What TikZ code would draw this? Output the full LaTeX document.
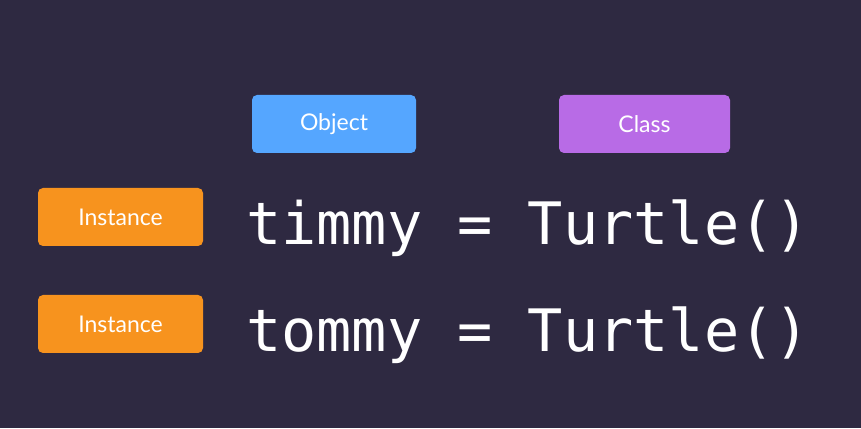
\documentclass[tikz,border=0pt]{standalone}
\usepackage{fontspec}
\setmainfont{Lato}
\newfontfamily\codefont{DejaVu Sans Mono}
\usetikzlibrary{positioning}
\definecolor{bgcol}{HTML}{2E2941}
\definecolor{objcol}{HTML}{55A6FF}
\definecolor{clscol}{HTML}{B86BE6}
\definecolor{inscol}{HTML}{F7931E}
\tikzset{
  tag/.style={
    rectangle, rounded corners=5pt, minimum height=58pt, inner sep=0pt,
    text=white, font=\fontsize{23}{27}\selectfont
  },
  code/.style={
    anchor=base west, inner sep=0pt, text=white,
    font=\codefont\fontsize{58.5}{64}\selectfont
  }
}

\begin{document}
\begin{tikzpicture}[x=1pt, y=1pt]
   \fill[bgcol] (0, 0) rectangle (861, 428);
   \useasboundingbox (0, 0) rectangle (861, 428);

   \node[tag, fill=objcol, minimum width=164pt] (obj) at (334, 304) {Object};
   \node[tag, fill=clscol, minimum width=171pt] (cls) at (644.5, 304) {Class};
   \node[tag, fill=inscol, minimum width=165pt] (insa) at (120.5, 211) {Instance};
   \node[tag, fill=inscol, minimum width=165pt] (insb) at (120.5, 104) {Instance};

   \node[code] (timmy) at (246, 183) {timmy = Turtle()};
   \node[code] (tommy) at (246, 76) {tommy = Turtle()};
\end{tikzpicture}
\end{document}
